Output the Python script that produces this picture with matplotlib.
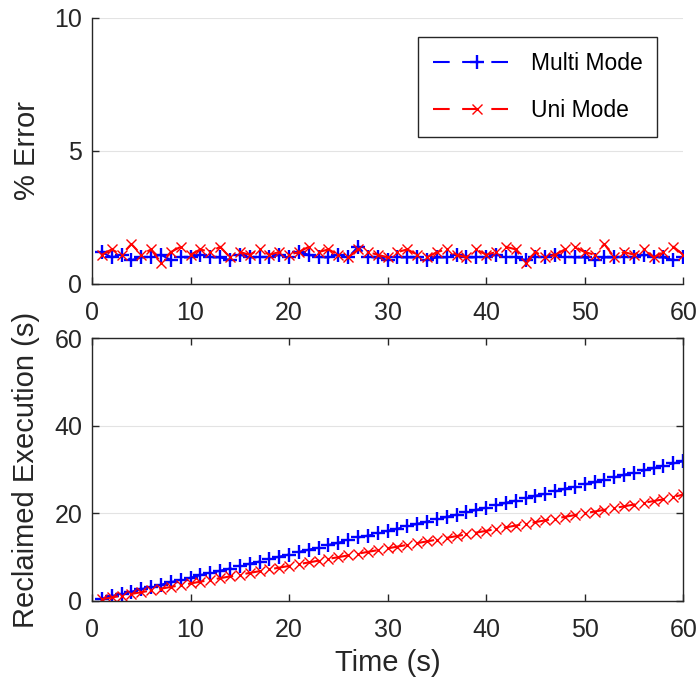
import matplotlib
matplotlib.use("Agg")
import matplotlib.pyplot as plt

time_s = list(range(1, 61))

multi_err = [1.2, 1.0, 1.1, 0.9, 1.0, 1.0, 1.1, 0.9, 1.0, 1.0, 1.1, 1.0, 1.0, 0.9, 1.1,
             1.0, 1.0, 1.0, 1.1, 1.0, 1.2, 1.1, 1.0, 1.0, 1.1, 1.0, 1.4, 1.0, 1.0, 0.9,
             1.0, 1.0, 1.0, 0.9, 1.0, 1.0, 1.1, 1.0, 1.0, 1.0, 1.1, 1.0, 1.0, 0.9, 1.0,
             1.0, 1.1, 1.0, 1.0, 1.0, 0.9, 1.0, 1.0, 1.0, 1.0, 1.1, 1.0, 1.0, 0.9, 1.0]
uni_err = [1.1, 1.3, 1.1, 1.5, 1.1, 1.3, 0.8, 1.2, 1.4, 1.1, 1.3, 1.2, 1.4, 1.0, 1.2,
           1.1, 1.3, 1.1, 1.2, 1.1, 1.2, 1.4, 1.2, 1.3, 1.1, 1.0, 1.3, 1.2, 1.1, 1.0,
           1.2, 1.3, 1.1, 1.0, 1.2, 1.3, 1.1, 1.0, 1.3, 1.1, 1.2, 1.4, 1.3, 0.8, 1.2,
           1.0, 1.1, 1.3, 1.4, 1.2, 1.1, 1.5, 1.0, 1.2, 1.1, 1.3, 1.0, 1.2, 1.4, 1.1]

multi_reclaimed = [0.5, 1.1, 1.6, 2.1, 2.7, 3.2, 3.7, 4.3, 4.8, 5.3, 5.9, 6.4, 6.9, 7.4, 8.0,
                   8.5, 9.0, 9.6, 10.1, 10.6, 11.2, 11.7, 12.2, 12.8, 13.3, 13.8, 14.5, 14.9, 15.4, 16.0,
                   16.5, 17.0, 17.6, 18.1, 18.6, 19.2, 19.7, 20.2, 20.8, 21.3, 21.8, 22.4, 22.9, 23.4, 24.0,
                   24.5, 25.0, 25.6, 26.1, 26.6, 27.1, 27.7, 28.2, 28.8, 29.3, 29.8, 30.3, 30.9, 31.4, 31.9]
uni_reclaimed = [0.4, 0.8, 1.2, 1.6, 2.0, 2.4, 2.8, 3.2, 3.6, 4.0, 4.4, 4.8, 5.2, 5.6, 6.0,
                 6.4, 6.8, 7.2, 7.6, 8.0, 8.4, 8.8, 9.2, 9.6, 10.0, 10.4, 10.8, 11.2, 11.6, 12.0,
                 12.4, 12.8, 13.2, 13.6, 14.0, 14.4, 14.8, 15.2, 15.6, 16.0, 16.4, 16.8, 17.2, 17.6, 18.0,
                 18.4, 18.8, 19.2, 19.6, 20.0, 20.4, 20.8, 21.2, 21.6, 22.0, 22.4, 22.8, 23.2, 23.7, 24.3]

x_ticks = [0, 10, 20, 30, 40, 50, 60]
top_yticks = [0, 5, 10]
bot_yticks = [0, 20, 40, 60]

plt.rcParams['font.family'] = ['Liberation Sans', 'DejaVu Sans']
ax_col = '#262626'

fig = plt.figure(figsize=(6.98, 6.83), dpi=100)
ax1 = fig.add_axes([0.1318, 0.5842, 0.847, 0.3895])
ax2 = fig.add_axes([0.1318, 0.1201, 0.847, 0.3850])

blue_kw = dict(color='blue', linestyle=(0, (8, 6)), linewidth=1.5, marker='+',
               markersize=10.5, markeredgewidth=1.7)
red_kw = dict(color='red', linestyle=(0, (8, 6)), linewidth=1.5, marker='x',
              markersize=7, markeredgewidth=1.0)

ax1.plot(time_s, multi_err, label='Multi Mode', **blue_kw)
ax1.plot(time_s, uni_err, label='Uni Mode', **red_kw)
ax2.plot(time_s, multi_reclaimed, **blue_kw)
ax2.plot(time_s, uni_reclaimed, **red_kw)

ax1.set_xlim(0, 60)
ax1.set_ylim(0, 10)
ax1.set_yticks(top_yticks)
ax1.set_xticks(x_ticks)
ax1.set_ylabel('% Error', fontsize=21, color=ax_col, labelpad=10)
ax1.spines['top'].set_visible(False)
ax1.spines['right'].set_visible(False)

ax2.set_xlim(0, 60)
ax2.set_ylim(0, 60)
ax2.set_yticks(bot_yticks)
ax2.set_xticks(x_ticks)
ax2.set_ylabel('Reclaimed Execution (s)', fontsize=21, color=ax_col, labelpad=10)
ax2.set_xlabel('Time (s)', fontsize=21, color=ax_col, labelpad=5)
ax2.tick_params(top=True, right=True)

for ax in (ax1, ax2):
    ax.grid(axis='y', color='#e3e3e3', linewidth=0.8)
    ax.set_axisbelow(True)
    ax.tick_params(direction='in', length=5, width=1, colors=ax_col, labelsize=18)
    ax.tick_params(axis='x', pad=12)
    ax.tick_params(axis='y', pad=7)
    for s in ax.spines.values():
        s.set_color(ax_col)
        s.set_linewidth(1.0)

leg = ax1.legend(loc='upper right', bbox_to_anchor=(0.956, 0.929), fontsize=16.5,
                 fancybox=False, edgecolor=ax_col, framealpha=1, handlelength=3.8,
                 borderpad=0.65, labelspacing=1.05, handletextpad=0.45, borderaxespad=0)
leg.get_frame().set_linewidth(1.0)

fig.savefig('out.png', dpi=100)
